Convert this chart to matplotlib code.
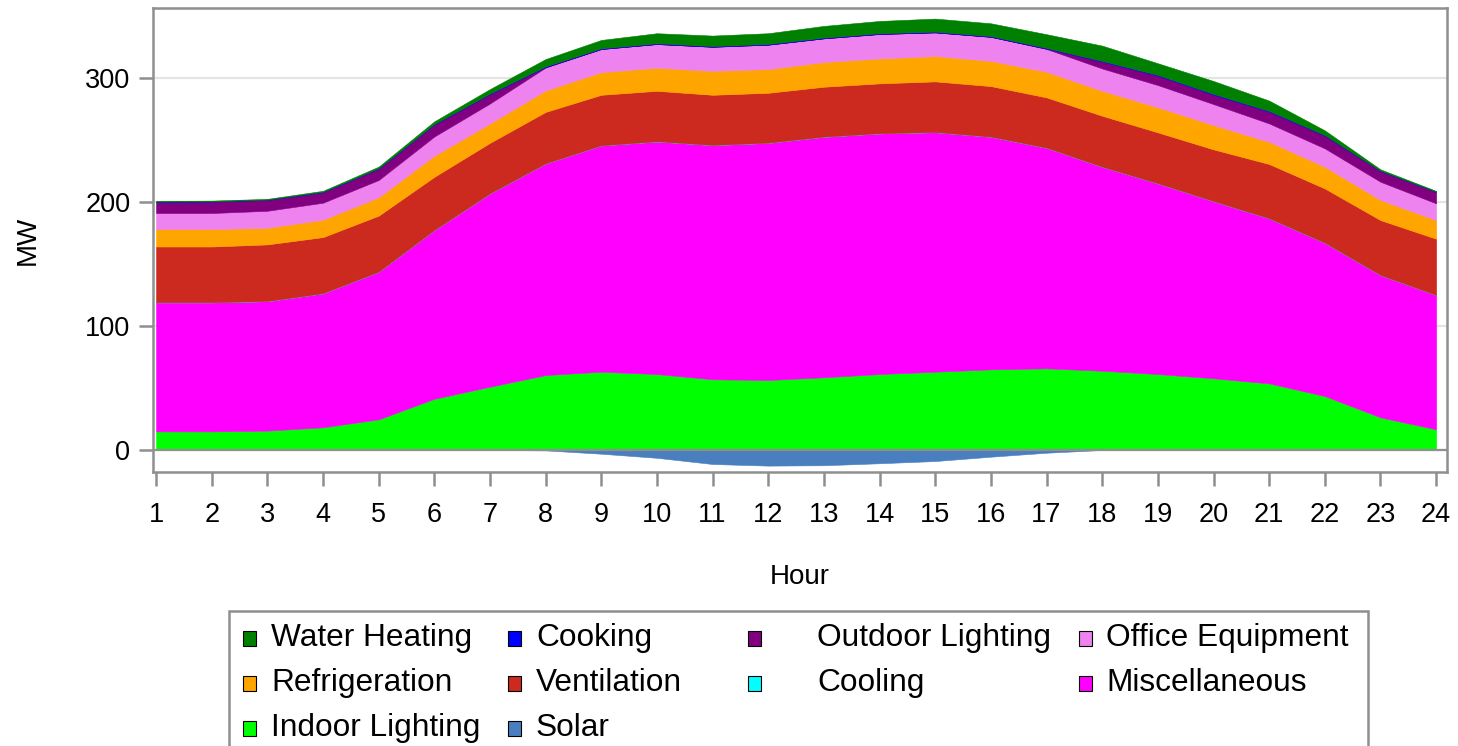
"""Hourly commercial load by end use, stacked area (MW)."""
import matplotlib
matplotlib.use("Agg")
import matplotlib.pyplot as plt
from matplotlib.patches import Rectangle
import numpy as np

plt.rcParams["font.family"] = ["Liberation Sans", "DejaVu Sans"]

hours = list(range(1, 25))

indoor_lighting = [15, 15, 15.6, 18.3, 24.7, 41.3, 51, 60.4, 63.1, 61.2, 57, 56.4,
                   58.6, 61.2, 63.1, 65, 65.8, 63.9, 61.2, 57.8, 53.7, 43.5, 26.3, 16.7]
miscellaneous = [104, 104, 104.4, 108, 119, 136, 155.8, 170.6, 182.4, 187.5, 188.8, 191.2,
                 193.9, 194, 193.1, 187.5, 177.8, 164.4, 153.7, 142.8, 133, 123.5, 114.7, 108.2]
cooling = [0] * 24
ventilation = [45, 45, 45.7, 45.3, 45.2, 42.9, 40.8, 41.5, 40.8, 40.8, 40.5, 40.3,
               40.3, 40.3, 40.9, 40.8, 40.6, 41.1, 41.1, 41.7, 43.8, 43.8, 44.3, 45.4]
refrigeration = [14, 14, 13.4, 14, 14.8, 17, 15.6, 17.3, 18.3, 18.6, 19.3, 19.1,
                 19.9, 20.1, 20.4, 20.3, 20.6, 20.1, 20.2, 19.6, 17.9, 17.5, 16.2, 15]
office_equipment = [13, 13, 13.7, 13.7, 13.9, 15.5, 16.1, 18.5, 18.6, 19.1, 19.4, 19.7,
                    19.1, 19.7, 19.1, 19.4, 18.4, 18, 17.9, 16.9, 14.8, 14.8, 14.7, 13.5]
outdoor_lighting = [9, 9.2, 8.8, 8.5, 9.2, 9.6, 7.5, 0.3, 0, 0, 0, 0,
                    0, 0, 0, 0, 0.3, 5.5, 7.6, 7.6, 9.5, 10.2, 8.6, 9.3]
cooking = [0.2, 0.2, 0.2, 0.3, 0.3, 0.4, 0.5, 0.6, 0.6, 0.6, 0.6, 0.6,
           0.6, 0.6, 0.6, 0.6, 0.6, 0.6, 0.6, 0.6, 0.6, 0.5, 0.3, 0.2]
water_heating = [0.5, 0.6, 0.6, 0.8, 1.3, 2.2, 3.6, 5.9, 6.7, 8.1, 8.4, 8.6,
                 9.4, 9.9, 10.5, 10.3, 11, 12.3, 9.4, 10.4, 8.3, 3.8, 1.1, 0.5]
solar = [0, 0, 0, 0, 0, 0, 0, -0.3, -3, -6.3, -11.3, -12.6,
         -12.3, -10.7, -8.9, -5.4, -2.2, 0, 0, 0, 0, 0, 0, 0]

# bottom-up stacking order
stack_names = ["Indoor Lighting", "Miscellaneous", "Cooling", "Ventilation", "Refrigeration",
               "Office Equipment", "Outdoor Lighting", "Cooking", "Water Heating"]
stack_values = [indoor_lighting, miscellaneous, cooling, ventilation, refrigeration,
                office_equipment, outdoor_lighting, cooking, water_heating]
colors = {
    "Water Heating": "#008000",
    "Cooking": "#0000ff",
    "Outdoor Lighting": "#800080",
    "Office Equipment": "#ee82ee",
    "Refrigeration": "#ffa500",
    "Ventilation": "#cc2a1e",
    "Cooling": "#00ffff",
    "Miscellaneous": "#ff00ff",
    "Indoor Lighting": "#00ff00",
    "Solar": "#4a7fbf",
}
legend_order = ["Water Heating", "Cooking", "Outdoor Lighting", "Office Equipment",
                "Refrigeration", "Ventilation", "Cooling", "Miscellaneous",
                "Indoor Lighting", "Solar"]

W, H = 1458, 746
fig = plt.figure(figsize=(W / 100, H / 100), dpi=100)
ax = fig.add_axes([152.7 / W, 1 - 471.7 / H, 1294 / W, 463.4 / H])

polys = ax.stackplot(hours, *stack_values, colors=[colors[n] for n in stack_names])
for p, n in zip(polys, stack_names):
    p.set_edgecolor(colors[n])
    p.set_linewidth(0.4)
ax.fill_between(hours, solar, 0, color=colors["Solar"], lw=0.4, edgecolor=colors["Solar"])

gray = "#8f8f8f"
ax.axhline(0, color=gray, lw=1.6, zorder=5)
ax.set_axisbelow(True)
ax.yaxis.grid(True, color="#e4e4e4", lw=1.6)

ax.set_xlim(0.94, 24.19)
ax.set_ylim(-17.5, 356)
ax.set_xticks(hours)
ax.set_yticks([0, 100, 200, 300])
for s in ax.spines.values():
    s.set_color(gray)
    s.set_linewidth(1.8)
ax.tick_params(axis="both", direction="out", length=10, width=1.8, color=gray,
               labelsize=19.5, pad=12)
ax.tick_params(axis="y", pad=6)
ax.set_xlabel("Hour", fontsize=20, labelpad=26)
ax.set_ylabel("MW", fontsize=20, labelpad=32)

# legend box (SAS style, runs off the bottom of the image)
fig.add_artist(Rectangle((229 / W, -0.05), (1368 - 229) / W, (H - 611) / H + 0.05,
                         transform=fig.transFigure, facecolor="white",
                         edgecolor=gray, lw=1.8))
marker_x = [249, 514, 754, 1085]
text_x = [271, 536, 817, 1106]
row_y = [638, 683, 728]
for i, name in enumerate(legend_order):
    r, c = divmod(i, 4)
    mx, my = marker_x[c], row_y[r]
    fig.add_artist(Rectangle(((mx - 6.5) / W, 1 - (my + 7.5) / H), 13 / W, 15 / H,
                             transform=fig.transFigure, facecolor=colors[name],
                             edgecolor="black", lw=0.8))
    fig.text(text_x[c] / W, 1 - my / H, name, fontsize=22.8, va="center", ha="left")

fig.savefig("out.png", dpi=100)
